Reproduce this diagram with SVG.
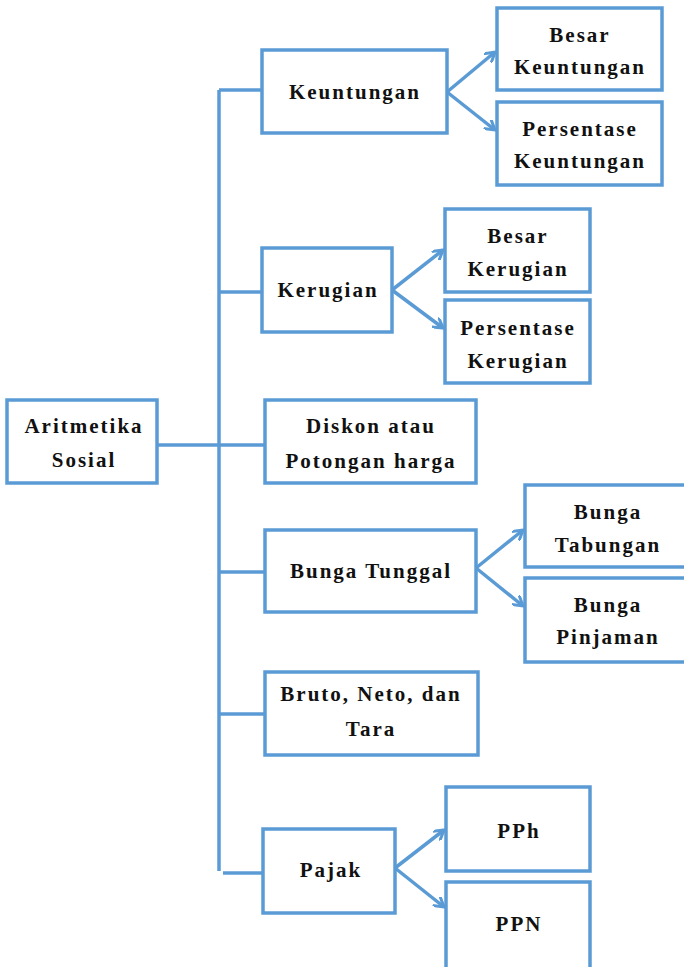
<svg xmlns="http://www.w3.org/2000/svg" width="684" height="967" viewBox="0 0 684 967">
<style>
.box{fill:#fff;stroke:#5b9bd5;stroke-width:3.5}
.ln{fill:none;stroke:#5b9bd5;stroke-width:3.5}
.t{font-family:"Liberation Serif","DejaVu Serif",serif;font-weight:bold;font-size:21px;letter-spacing:2px;text-anchor:middle;fill:#111}
</style>
<defs>
<marker id="ah" markerWidth="12" markerHeight="12" refX="10" refY="6" orient="auto" markerUnits="userSpaceOnUse" viewBox="0 0 12 12">
<polyline points="0,0 10,6 0,12" fill="none" stroke="#5b9bd5" stroke-width="3"/>
</marker>
</defs>
<rect width="684" height="967" fill="#fff"/>
<g id="connectors">
<path class="ln" d="M219 90 V871"/>
<path class="ln" d="M157 445 H265"/>
<path class="ln" d="M219 90 H262"/>
<path class="ln" d="M219 292 H262"/>
<path class="ln" d="M219 572 H265"/>
<path class="ln" d="M219 714 H265"/>
<path class="ln" d="M223 873 H263"/>
<path class="ln" d="M447 92 L495 52" marker-end="url(#ah)"/>
<path class="ln" d="M447 92 L495 130" marker-end="url(#ah)"/>
<path class="ln" d="M392 290 L443 250" marker-end="url(#ah)"/>
<path class="ln" d="M392 290 L443 328" marker-end="url(#ah)"/>
<path class="ln" d="M476 568 L523 530" marker-end="url(#ah)"/>
<path class="ln" d="M476 568 L523 606" marker-end="url(#ah)"/>
<path class="ln" d="M395 868 L444 830" marker-end="url(#ah)"/>
<path class="ln" d="M395 868 L444 907" marker-end="url(#ah)"/>
</g>
<g id="aritmetika"><rect class="box" x="7" y="400" width="150" height="83"/><text class="t" x="84" y="433">Aritmetika</text><text class="t" x="84" y="467">Sosial</text></g>
<g id="keuntungan"><rect class="box" x="262" y="50" width="185" height="83"/><text class="t" x="355" y="99">Keuntungan</text></g>
<g id="besar-keuntungan"><rect class="box" x="497" y="8" width="165" height="82"/><text class="t" x="580" y="42">Besar</text><text class="t" x="580" y="74">Keuntungan</text></g>
<g id="persentase-keuntungan"><rect class="box" x="497" y="102" width="165" height="83"/><text class="t" x="580" y="136">Persentase</text><text class="t" x="580" y="168">Keuntungan</text></g>
<g id="kerugian"><rect class="box" x="262" y="248" width="130" height="84"/><text class="t" x="328" y="297">Kerugian</text></g>
<g id="besar-kerugian"><rect class="box" x="445" y="209" width="145" height="83"/><text class="t" x="518" y="243">Besar</text><text class="t" x="518" y="276">Kerugian</text></g>
<g id="persentase-kerugian"><rect class="box" x="445" y="300" width="145" height="83"/><text class="t" x="518" y="335">Persentase</text><text class="t" x="518" y="368">Kerugian</text></g>
<g id="diskon"><rect class="box" x="265" y="400" width="211" height="83"/><text class="t" x="371" y="433">Diskon atau</text><text class="t" x="371" y="468">Potongan harga</text></g>
<g id="bunga-tunggal"><rect class="box" x="265" y="530" width="211" height="82"/><text class="t" x="371" y="578">Bunga Tunggal</text></g>
<g id="bunga-tabungan"><rect class="box" x="525" y="485" width="165" height="82"/><text class="t" x="608" y="519">Bunga</text><text class="t" x="608" y="552">Tabungan</text></g>
<g id="bunga-pinjaman"><rect class="box" x="525" y="578" width="165" height="84"/><text class="t" x="608" y="612">Bunga</text><text class="t" x="608" y="644">Pinjaman</text></g>
<g id="bruto"><rect class="box" x="265" y="672" width="213" height="83"/><text class="t" x="371" y="701">Bruto, Neto, dan</text><text class="t" x="371" y="736">Tara</text></g>
<g id="pajak"><rect class="box" x="263" y="829" width="132" height="84"/><text class="t" x="331" y="877">Pajak</text></g>
<g id="pph"><rect class="box" x="446" y="787" width="144" height="84"/><text class="t" x="519" y="838">PPh</text></g>
<g id="ppn"><rect class="box" x="446" y="882" width="144" height="90"/><text class="t" x="519" y="931">PPN</text></g>
</svg>
